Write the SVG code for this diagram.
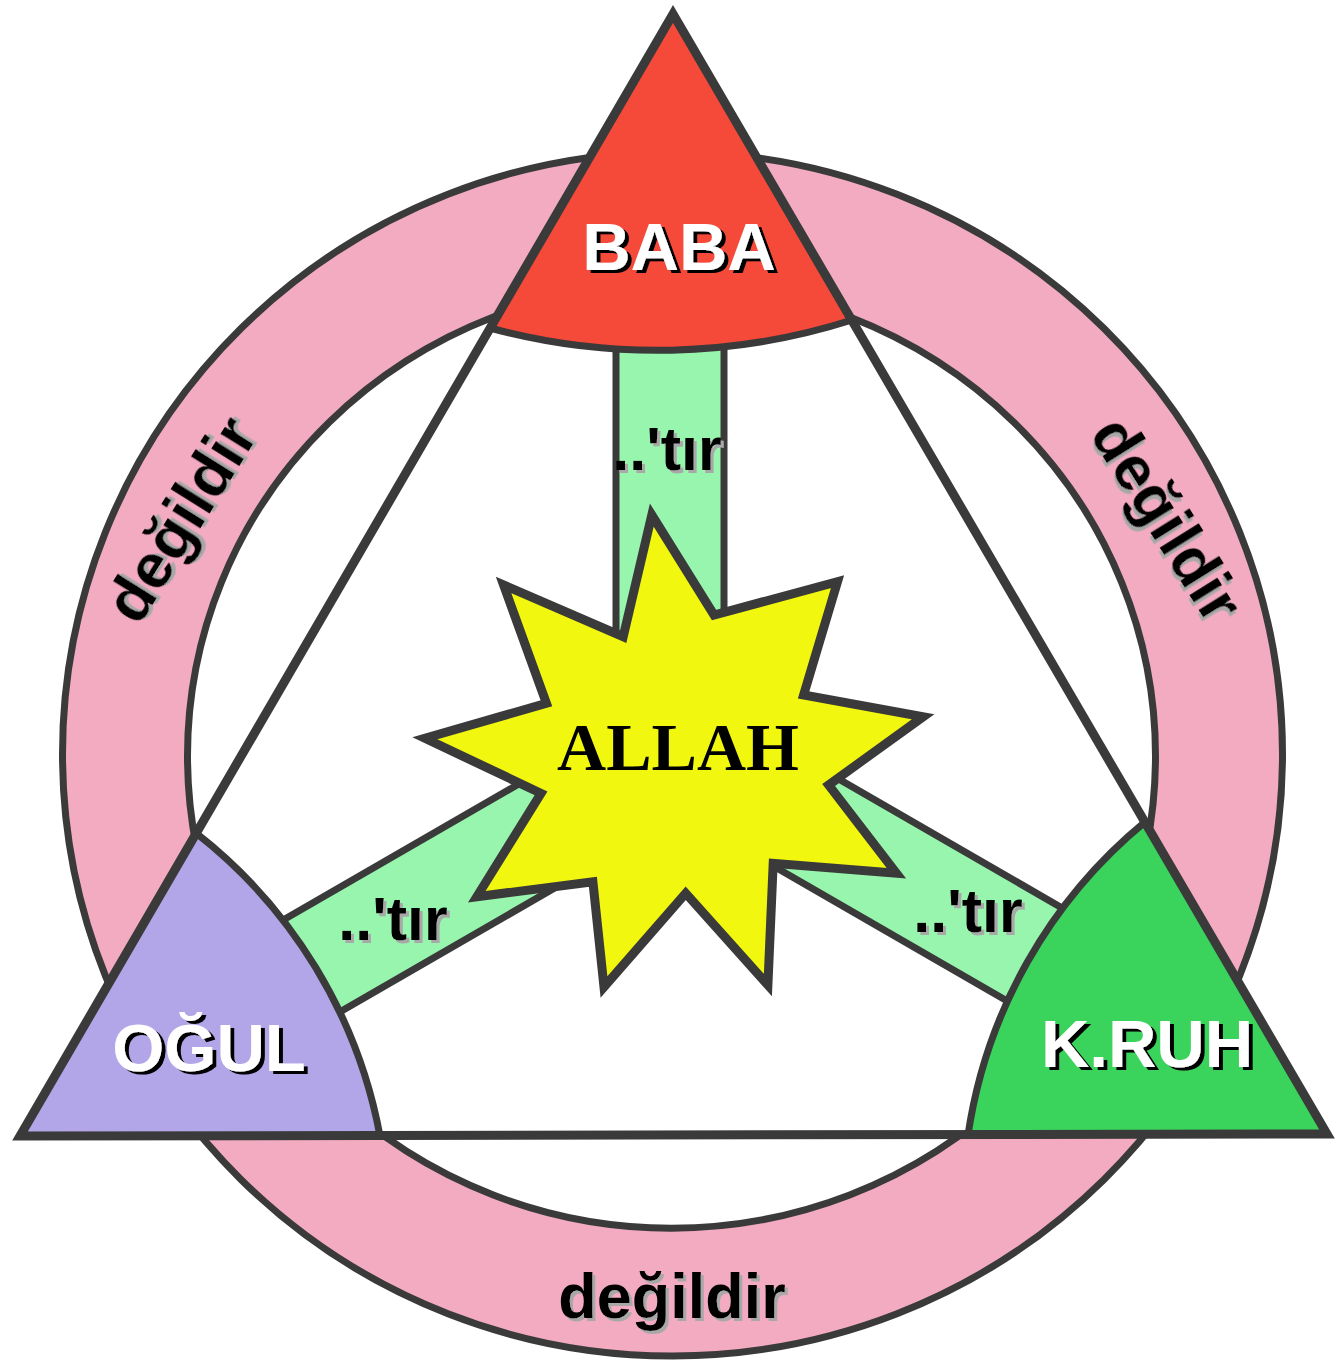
<svg xmlns="http://www.w3.org/2000/svg" width="1337" height="1365" viewBox="0 0 1337 1365">
  <defs>
    <style>
      .ln { stroke: #3a3a3a; stroke-width: 7; stroke-linejoin: round; }
      .lbl { font-family: "Liberation Sans", Arial, sans-serif; font-weight: bold; font-size: 67px; text-anchor: middle; fill: #fff; filter: url(#shBlack); }
      .tir { font-family: "Liberation Sans", Arial, sans-serif; font-weight: bold; font-size: 61px; text-anchor: middle; fill: #000; filter: url(#shGrey); }
      .deg { font-family: "Liberation Sans", Arial, sans-serif; font-weight: bold; font-size: 63px; text-anchor: middle; fill: #000; filter: url(#shGrey); }
      .god { font-family: "Liberation Serif", "Times New Roman", serif; font-weight: bold; font-size: 68px; text-anchor: middle; fill: #000; }
    </style>
    <filter id="shBlack" x="-10%" y="-20%" width="130%" height="150%">
      <feDropShadow dx="4" dy="3" stdDeviation="0" flood-color="#000" flood-opacity="1"/>
    </filter>
    <filter id="shGrey" x="-10%" y="-20%" width="130%" height="150%">
      <feDropShadow dx="3" dy="3" stdDeviation="0" flood-color="#a8a8a8" flood-opacity="1"/>
    </filter>
    <rect id="bar" x="-54" y="-440" width="108" height="440" fill="#98f5ae" stroke="#3a3a3a" stroke-width="7"/>
  </defs>
  <rect x="0" y="0" width="1337" height="1365" fill="#ffffff"/>

  <!-- ring -->
  <g id="ring">
    <path class="ln" fill="#f3abc2" fill-rule="evenodd"
      d="M62.5,754 A610,602 0 1 0 1282.5,754 A610,602 0 1 0 62.5,754 Z M187.5,756 A484,472 0 1 0 1155.5,756 A484,472 0 1 0 187.5,756 Z"/>
  </g>

  <!-- triangle interior -->
  <polygon points="673,14 20,1136 1327,1134" fill="#ffffff"/>

  <!-- connectors: bars -->
  <g id="connectors">
    <use href="#bar" transform="translate(670,752)"/>
    <use href="#bar" transform="translate(670,744) rotate(120)"/>
    <use href="#bar" transform="translate(670,759) rotate(240)"/>
  </g>

  <!-- corner nodes -->
  <g id="node-baba">
    <path class="ln" fill="#f5493a" d="M673,14 L490,328 A640,640 0 0 0 852,320 Z"/>
  </g>
  <g id="node-ogul">
    <path class="ln" fill="#b2a5e8" d="M20,1136 L196,833 A500,500 0 0 1 380,1136 Z"/>
  </g>
  <g id="node-kruh">
    <path class="ln" fill="#3ad35c" d="M1327,1134 L1145,822 A500,500 0 0 0 968,1135 Z"/>
  </g>

  <!-- triangle outline -->
  <polygon points="673,14 20,1136 1327,1134" fill="none" stroke="#3a3a3a" stroke-width="9" stroke-linejoin="miter"/>

  <!-- star -->
  <g id="node-allah">
    <polygon fill="#f2f70f" stroke="#3a3a3a" stroke-width="9" stroke-linejoin="miter" stroke-miterlimit="10"
      points="651.8,515 714,615 837.5,581.7 803.6,695 923.2,716.7 828.6,785 896.4,873.3 773.2,863.3 767.9,985 685.7,893.3 604,987 592.9,881.7 476.8,896.7 541,793.3 425,738.3 546.4,703.3 503.6,585 623.2,636.7"/>
    <text class="god" x="678" y="770">ALLAH</text>
  </g>

  <!-- node labels -->
  <g id="labels">
    <text class="lbl" x="679" y="270">BABA</text>
    <text class="lbl" x="209" y="1071">OĞUL</text>
    <text class="lbl" x="1147" y="1067">K.RUH</text>
  </g>

  <!-- connector labels -->
  <g id="tir-labels">
    <text class="tir" x="667" y="470">..'tır</text>
    <text class="tir" x="393" y="940">..'tır</text>
    <text class="tir" x="968" y="932">..'tır</text>
  </g>

  <!-- ring labels -->
  <g id="degildir-labels">
    <text class="deg" transform="translate(182,520) rotate(-58)" x="0" y="20">değildir</text>
    <text class="deg" transform="translate(1166,520) rotate(58)" x="0" y="20">değildir</text>
    <text class="deg" x="672" y="1318">değildir</text>
  </g>
</svg>
